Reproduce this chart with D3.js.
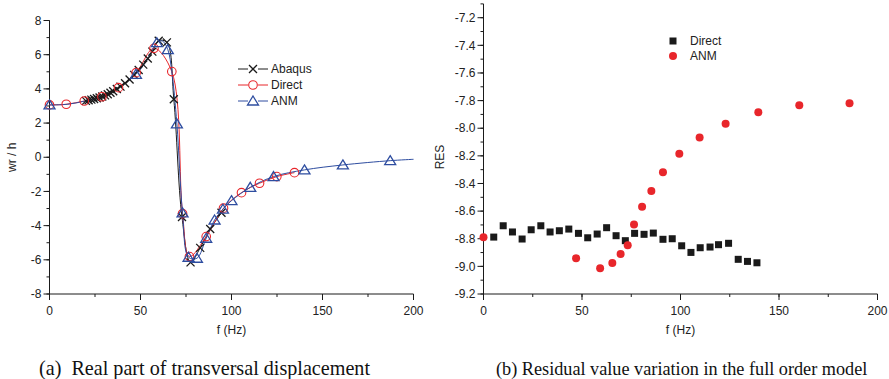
<!DOCTYPE html>
<html>
<head>
<meta charset="utf-8">
<script src="https://cdn.jsdelivr.net/npm/d3@7"></script>
<style>
  body { margin: 0; background: #fff; }
  svg text { font-family: Arial, "Liberation Sans", sans-serif; fill: #222; }
  .caption { font-family: "Times New Roman", "Liberation Serif", serif; font-size: 21px; fill: #111; white-space: pre; }
</style>
</head>
<body>
<svg id="grafica" width="889" height="379"></svg>
<script>
// ---- datos: grafica (a) parte real del desplazamiento transversal ----
const abaqusF = [20, 21.5, 23, 24.5, 26, 27.5, 29, 30.5, 32, 33.5, 35, 37, 39, 41.5, 44, 46.5, 49, 51.5, 54, 56.5, 60, 64.5, 68.3, 72.8, 77.5, 82.8, 88.3, 94.5];
const abaqusV = [3.30, 3.33, 3.37, 3.41, 3.45, 3.50, 3.55, 3.62, 3.69, 3.77, 3.86, 3.99, 4.13, 4.33, 4.55, 4.82, 5.10, 5.42, 5.78, 6.18, 6.82, 6.72, 3.39, -3.5, -6.15, -5.3, -4.2, -3.25];

const directF = [0, 9.2, 19.1, 28.8, 37.9, 47.6, 57.4, 67.2, 73.1, 76.9, 86.1, 95.6, 105.5, 115.4, 124.9, 134.6];
const directV = [3.06, 3.10, 3.29, 3.54, 4.07, 4.95, 6.37, 5.01, -3.3, -5.81, -4.64, -2.98, -2.07, -1.52, -1.13, -0.90];

const anmF = [0, 47.5, 59, 65, 70, 73.1, 76.4, 81, 86.1, 90.7, 95.3, 100, 110.3, 123.1, 140.1, 161.2, 187.2];
const anmV = [3.06, 4.85, 6.70, 6.30, 1.95, -3.25, -5.85, -5.91, -4.74, -3.67, -3.04, -2.54, -1.76, -1.13, -0.74, -0.45, -0.20];
// curva continua del ANM (sin marcadores)
const anmCurveF = [0, 10, 20, 30, 38, 47.5, 54, 59, 62, 65, 67.2, 70, 73.1, 76.4, 81, 86.1, 90.7, 95.3, 100, 110.3, 123.1, 140.1, 161.2, 187.2, 200];
const anmCurveV = [3.06, 3.10, 3.30, 3.57, 4.07, 4.85, 5.75, 6.70, 6.80, 6.30, 5.01, 1.95, -3.25, -5.85, -5.91, -4.74, -3.67, -3.04, -2.54, -1.76, -1.13, -0.74, -0.45, -0.20, -0.12];

const ticksA_x = [0, 50, 100, 150, 200];
const ticksA_y = [-8, -6, -4, -2, 0, 2, 4, 6, 8];

// ---- datos: grafica (b) valor residual ----
const resDirectF = [5.2, 10.0, 14.7, 19.6, 24.2, 29.1, 33.8, 38.5, 43.3, 48.2, 52.9, 57.7, 62.5, 67.3, 72.0, 76.7, 81.5, 86.2, 91.1, 95.8, 100.6, 105.3, 110.0, 115.0, 119.3, 124.4, 129.3, 134.0, 138.8];
const resDirectV = [-8.788, -8.706, -8.751, -8.802, -8.735, -8.706, -8.751, -8.742, -8.730, -8.761, -8.793, -8.766, -8.720, -8.778, -8.814, -8.761, -8.768, -8.759, -8.804, -8.800, -8.851, -8.899, -8.865, -8.860, -8.843, -8.833, -8.949, -8.964, -8.974];

const resAnmF = [0, 47.0, 59.2, 65.4, 69.6, 73.2, 76.4, 80.5, 85.2, 91.1, 99.4, 109.7, 122.9, 139.5, 160.3, 185.8];
const resAnmV = [-8.79, -8.942, -9.014, -8.976, -8.911, -8.848, -8.696, -8.568, -8.454, -8.318, -8.184, -8.068, -7.967, -7.884, -7.833, -7.819];

const ticksB_x = [0, 50, 100, 150, 200];
const ticksB_y = [-9.2, -9.0, -8.8, -8.6, -8.4, -8.2, -8.0, -7.8, -7.6, -7.4, -7.2];

const negro = "#1a1a1a";
const rojo = "#e8262b";
const azul = "#2e4da0";

const svg = d3.select("#grafica");

// ejes con marcas menores estilo Origin
function dibujarEjes(g, x, y, ancho, alto, xTicks, xMinor, yTicks, yMinor, yFmt) {
  const ejeX = g.append("g").attr("transform", `translate(0, ${alto})`);
  ejeX.append("line").attr("x1", 0).attr("x2", ancho).attr("stroke", negro);
  ejeX.selectAll(".menor").data(xMinor).enter().append("line")
    .attr("x1", x).attr("x2", x).attr("y1", 0).attr("y2", 3).attr("stroke", negro);
  ejeX.selectAll(".mayor").data(xTicks).enter().append("line")
    .attr("x1", x).attr("x2", x).attr("y1", 0).attr("y2", 6).attr("stroke", negro);
  ejeX.selectAll("text").data(xTicks).enter().append("text")
    .attr("x", x).attr("y", 21).attr("text-anchor", "middle")
    .style("font-size", "12px").text((d) => d);

  const ejeY = g.append("g");
  ejeY.append("line").attr("y1", y(y.domain()[1])).attr("y2", alto).attr("stroke", negro);
  ejeY.selectAll(".menor").data(yMinor).enter().append("line")
    .attr("y1", y).attr("y2", y).attr("x1", 0).attr("x2", -3).attr("stroke", negro);
  ejeY.selectAll(".mayor").data(yTicks).enter().append("line")
    .attr("y1", y).attr("y2", y).attr("x1", 0).attr("x2", -6).attr("stroke", negro);
  ejeY.selectAll("text").data(yTicks).enter().append("text")
    .attr("x", -8).attr("y", y).attr("dy", "0.35em").attr("text-anchor", "end")
    .style("font-size", "12px").text(yFmt);
}

// ================= grafica (a) =================
const mA = { left: 49.5, top: 20.5 };
const anchoA = 364, altoA = 273.5;
const gA = svg.append("g").attr("transform", `translate(${mA.left}, ${mA.top})`);

const xA = d3.scaleLinear().domain([0, 200]).range([0, anchoA]);
const yA = d3.scaleLinear().domain([-8, 8]).range([altoA, 0]);

dibujarEjes(gA, xA, yA, anchoA, altoA, ticksA_x, d3.range(0, 201, 25), ticksA_y, d3.range(-8, 8.1, 1), (d) => d);

const linea = (fs, vs) => d3.line().curve(d3.curveCatmullRom.alpha(0.5))
  .x((d, i) => xA(fs[i])).y((d, i) => yA(vs[i]))(fs);

gA.append("path").attr("d", linea(abaqusF, abaqusV)).attr("fill", "none").attr("stroke", negro).attr("stroke-width", 1);
gA.append("path").attr("d", linea(directF, directV)).attr("fill", "none").attr("stroke", rojo).attr("stroke-width", 1);
gA.append("path").attr("d", linea(anmCurveF, anmCurveV)).attr("fill", "none").attr("stroke", azul).attr("stroke-width", 1);

// marcadores
function cruz(sel, cx, cy, s) {
  sel.append("path").attr("d", `M${cx - s},${cy - s}L${cx + s},${cy + s}M${cx - s},${cy + s}L${cx + s},${cy - s}`)
    .attr("stroke", negro).attr("stroke-width", 1.3).attr("fill", "none");
}
function triangulo(sel, cx, cy, s) {
  sel.append("path").attr("d", `M${cx},${cy - s}L${cx + s * 1.1},${cy + s * 0.8}L${cx - s * 1.1},${cy + s * 0.8}Z`)
    .attr("stroke", azul).attr("stroke-width", 1.3).attr("fill", "none");
}
function circulo(sel, cx, cy, r) {
  sel.append("circle").attr("cx", cx).attr("cy", cy).attr("r", r)
    .attr("stroke", rojo).attr("stroke-width", 1.1).attr("fill", "none");
}

const marcas = gA.append("g");
abaqusF.forEach((f, i) => cruz(marcas, xA(f), yA(abaqusV[i]), 4));
directF.forEach((f, i) => circulo(marcas, xA(f), yA(directV[i]), 4.3));
anmF.forEach((f, i) => triangulo(marcas, xA(f), yA(anmV[i]), 5));

// leyenda (a)
const leyA = [
  { nombre: "Abaqus", color: negro, tipo: "x" },
  { nombre: "Direct", color: rojo, tipo: "o" },
  { nombre: "ANM", color: azul, tipo: "t" }
];
const gLeyA = svg.append("g").attr("transform", "translate(238, 69)");
leyA.forEach((d, i) => {
  const yy = i * 16;
  gLeyA.append("line").attr("x1", 0).attr("x2", 30).attr("y1", yy).attr("y2", yy).attr("stroke", d.color);
  gLeyA.append("rect").attr("x", 10).attr("y", yy - 5).attr("width", 10).attr("height", 10).attr("fill", "#fff");
  if (d.tipo === "x") cruz(gLeyA, 15, yy, 4);
  if (d.tipo === "o") circulo(gLeyA, 15, yy, 4.3);
  if (d.tipo === "t") triangulo(gLeyA, 15, yy, 5);
  gLeyA.append("text").attr("x", 33).attr("y", yy).attr("dy", "0.36em")
    .style("font-size", "12px").text(d.nombre);
});

// titulos de ejes (a)
svg.append("text").attr("transform", `translate(16, ${mA.top + altoA / 2}) rotate(-90)`)
  .attr("text-anchor", "middle").style("font-size", "12px").text("wr / h");
svg.append("text").attr("x", mA.left + anchoA / 2).attr("y", 334)
  .attr("text-anchor", "middle").style("font-size", "12px").text("f (Hz)");

// ================= grafica (b) =================
const mB = { left: 483.5, top: 3.9 };
const anchoB = 394, altoB = 290.1;
const gB = svg.append("g").attr("transform", `translate(${mB.left}, ${mB.top})`);

const xB = d3.scaleLinear().domain([0, 200]).range([0, anchoB]);
const yB = d3.scaleLinear().domain([-9.2, -7.1]).range([altoB, 0]);

dibujarEjes(gB, xB, yB, anchoB, altoB, ticksB_x, d3.range(0, 201, 25), ticksB_y,
  d3.range(-9.2, -7.05, 0.1), (d) => d.toFixed(1));

gB.selectAll(".cuadro").data(resDirectF).enter().append("rect")
  .attr("x", (d) => xB(d) - 3.5)
  .attr("y", (d, i) => yB(resDirectV[i]) - 3.5)
  .attr("width", 7).attr("height", 7).attr("fill", negro);

gB.selectAll(".punto").data(resAnmF).enter().append("circle")
  .attr("cx", (d) => xB(d))
  .attr("cy", (d, i) => yB(resAnmV[i]))
  .attr("r", 4).attr("fill", rojo);

// leyenda (b)
const gLeyB = svg.append("g").attr("transform", "translate(673, 41)");
gLeyB.append("rect").attr("x", -3.5).attr("y", -3.5).attr("width", 7).attr("height", 7).attr("fill", negro);
gLeyB.append("text").attr("x", 17).attr("y", 0).attr("dy", "0.36em").style("font-size", "12px").text("Direct");
gLeyB.append("circle").attr("cx", 0).attr("cy", 15).attr("r", 4).attr("fill", rojo);
gLeyB.append("text").attr("x", 17).attr("y", 15).attr("dy", "0.36em").style("font-size", "12px").text("ANM");

// titulos de ejes (b)
svg.append("text").attr("transform", `translate(444, 157) rotate(-90)`)
  .attr("text-anchor", "middle").style("font-size", "12px").text("RES");
svg.append("text").attr("x", mB.left + anchoB / 2).attr("y", 334)
  .attr("text-anchor", "middle").style("font-size", "12px").text("f (Hz)");

// pies de figura (ancho ajustado al de la figura original)
const pieA = svg.append("text").attr("class", "caption").attr("x", 39).attr("y", 375)
  .text("(a)  Real part of transversal displacement");
const escala = 331 / pieA.node().getComputedTextLength();
pieA.attr("textLength", 331).attr("lengthAdjust", "spacingAndGlyphs");

// el pie (b) va algo mas chico para que quepa completo en el ancho
const pieB = svg.append("text").attr("class", "caption").attr("x", 496).attr("y", 375)
  .style("font-size", "19px")
  .text("(b) Residual value variation in the full order model");
const largoB = Math.min(pieB.node().getComputedTextLength() * escala, 889 - 496 - 4);
pieB.attr("textLength", largoB).attr("lengthAdjust", "spacingAndGlyphs");
</script>
</body>
</html>
